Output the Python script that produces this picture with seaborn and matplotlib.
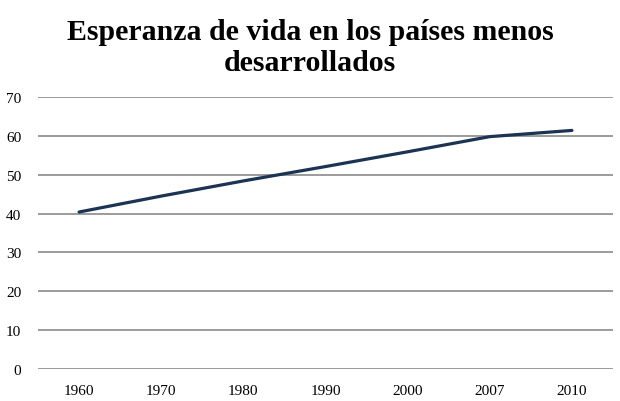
import pandas as pd
import seaborn as sns
import matplotlib.pyplot as plt

sns.set_theme(style="white")

# data
years = ["1960", "1970", "1980", "1990", "2000", "2007", "2010"]
esperanza = [40.4, 44.5, 48.4, 52.1, 55.9, 59.8, 61.4]
yticks = [0, 10, 20, 30, 40, 50, 60, 70]

serif = ["Liberation Serif", "DejaVu Serif"]
plt.rcParams["font.family"] = serif

df = pd.DataFrame({"anio": years, "vida": esperanza})

fig = plt.figure(figsize=(6.2, 4.02), dpi=100)
ax = fig.add_axes([38 / 620, 1 - 370 / 402, 575 / 620, 272 / 402])

# horizontal gridlines like the original spreadsheet chart
for t in yticks:
    ax.axhline(t, color="#8a8a8a", lw=1.2, zorder=1)

sns.lineplot(data=df, x="anio", y="vida", ax=ax, color="#1c3354", lw=2.3,
             sort=False, zorder=3)

ax.set_xlim(-0.5, len(years) - 0.5)
ax.set_ylim(0, 70)
ax.set_yticks(yticks)
ax.set_xlabel("")
ax.set_ylabel("")
for s in ax.spines.values():
    s.set_visible(False)
ax.tick_params(axis="both", length=0, labelsize=11, colors="#000000")
ax.tick_params(axis="y", pad=12)
ax.tick_params(axis="x", pad=11)

fig.text(0.5, 1 - 48 / 402, "Esperanza de vida en los países menos\ndesarrollados",
         ha="center", va="center", fontsize=21.5, fontweight="bold",
         linespacing=1.22, color="#000000")

fig.savefig("out.png", dpi=100, facecolor="white")
plt.close()
